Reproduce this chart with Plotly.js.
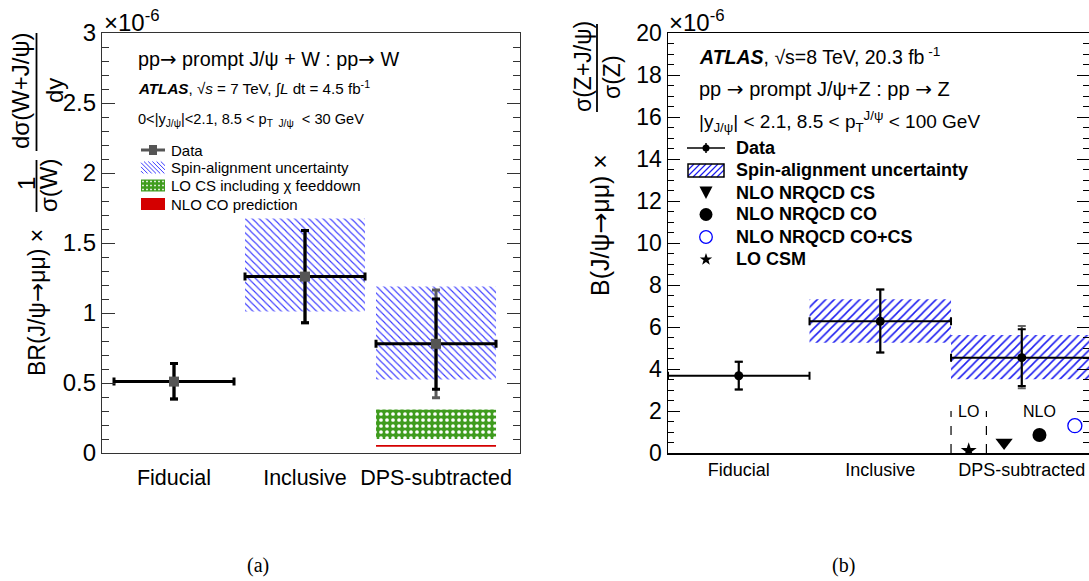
<!DOCTYPE html>
<html><head><meta charset="utf-8">
<script src="https://cdn.plot.ly/plotly-3.0.1.min.js"></script>
<style>html,body{margin:0;padding:0;background:#fff}#chart{width:1089px;height:581px}</style>
</head><body><div id="chart"></div>
<script>
// ---------------- data ----------------
const categories = ["Fiducial", "Inclusive", "DPS-subtracted"];
// (a) W + prompt J/psi  (units of 1e-6)
const wValues    = [0.51, 1.26, 0.78];
const wStatUp    = [0.13, 0.33, 0.32];
const wStatDown  = [0.125, 0.33, 0.325];
const wTotUp     = [0.13, 0.33, 0.385];
const wTotDown   = [0.125, 0.33, 0.385];
const wSpinLow   = [null, 1.01, 0.525];
const wSpinHigh  = [null, 1.675, 1.19];
const loCsLow    = [null, null, 0.10];
const loCsHigh   = [null, null, 0.31];
const nloCoLow   = [null, null, 0.045];
const nloCoHigh  = [null, null, 0.058];
// (b) Z + prompt J/psi  (units of 1e-6)
const zValues    = [3.68, 6.27, 4.54];
const zStatUp    = [0.67, 1.52, 1.35];
const zStatDown  = [0.66, 1.49, 1.35];
const zTotUp     = [0.67, 1.52, 1.51];
const zTotDown   = [0.66, 1.49, 1.46];
const zSpinLow   = [null, 5.25, 3.51];
const zSpinHigh  = [null, 7.32, 5.62];
const theoryNames  = ["LO CSM", "NLO NRQCD CS", "NLO NRQCD CO", "NLO NRQCD CO+CS"];
const theoryValues = [0.11, 0.5, 0.86, 1.3];
const yRangeA = [0, 3], yStepA = 0.5, yMinorA = 0.1;
const yRangeB = [0, 20], yStepB = 2, yMinorB = 0.5;

// ---------------- helpers ----------------
const W = 1089, H = 581;
const FONT = "Liberation Sans, Arial, Helvetica, sans-serif";
const ARR = '<span style="font-family:DejaVu Sans">→</span>';
const idx = categories.map((c, i) => i);
const px = x => x / W, py = y => 1 - y / H;
const diff = (hi, lo) => hi.map((h, i) => (h == null || lo[i] == null) ? null : h - lo[i]);

function ann(text, x, y, o) {
  o = o || {};
  return {text, xref: 'paper', yref: 'paper', x: px(x), y: py(y), showarrow: false,
    xanchor: o.xa || 'left', yanchor: o.ya || 'middle', textangle: o.angle || 0,
    font: {family: o.family || FONT, size: o.size || 14, color: o.color || '#000'}};
}
function lineShape(x0, y0, x1, y1, color, width, dash) {
  return {type: 'line', xref: 'paper', yref: 'paper', x0: px(x0), y0: py(y0), x1: px(x1), y1: py(y1),
    line: {color, width, dash: dash || 'solid'}};
}
function rectShape(x0, y0, x1, y1, fill, lc, lw) {
  return {type: 'rect', xref: 'paper', yref: 'paper', x0: px(x0), y0: py(y0), x1: px(x1), y1: py(y1),
    fillcolor: fill, line: {color: lc || 'rgba(0,0,0,0)', width: lw || 0}};
}
function hatchPath(x0, y0, x1, y1, s, dir) {
  let d = '';
  const P = (x, y) => px(x).toFixed(5) + ',' + py(y).toFixed(5);
  if (dir === '\\') {
    for (let c = y0 - x1; c <= y1 - x0; c += s) {
      const xa = Math.max(x0, y0 - c), xb = Math.min(x1, y1 - c);
      if (xb > xa) d += 'M' + P(xa, xa + c) + 'L' + P(xb, xb + c);
    }
  } else {
    for (let c = x0 + y0; c <= x1 + y1; c += s) {
      const xa = Math.max(x0, c - y1), xb = Math.min(x1, c - y0);
      if (xb > xa) d += 'M' + P(xa, c - xa) + 'L' + P(xb, c - xb);
    }
  }
  return d;
}
function dotsPath(x0, y0, x1, y1, s, r) {
  let d = '';
  const P = (x, y) => px(x).toFixed(5) + ',' + py(y).toFixed(5);
  for (let y = y0 + s / 2; y < y1; y += s)
    for (let x = x0 + s / 2; x < x1; x += s)
      d += 'M' + P(x - r, y - r) + 'L' + P(x + r, y - r) + 'L' + P(x + r, y + r) + 'L' + P(x - r, y + r) + 'Z';
  return d;
}
function circleShape(cx, cy, r, fill, lc, lw) {
  return {type: 'circle', xref: 'paper', yref: 'paper', x0: px(cx - r), x1: px(cx + r), y0: py(cy + r), y1: py(cy - r),
    fillcolor: fill, line: {color: lc, width: lw}};
}
function starPath(cx, cy, ro, ri) {
  let d = '';
  for (let k = 0; k < 10; k++) {
    const a = -Math.PI / 2 + k * Math.PI / 5, r = k % 2 ? ri : ro;
    d += (k ? 'L' : 'M') + px(cx + r * Math.cos(a)).toFixed(5) + ',' + py(cy + r * Math.sin(a)).toFixed(5);
  }
  return d + 'Z';
}

// ---------------- traces ----------------
const halfA = 0.458, halfB = 0.5;
const traces = [];
// (a)
traces.push({type: 'bar', xaxis: 'x', yaxis: 'y', x: idx, base: wSpinLow, y: diff(wSpinHigh, wSpinLow), width: 2 * halfA,
  marker: {color: 'rgba(0,0,0,0)', line: {width: 0}, pattern: {shape: '\\', fgcolor: '#3b3bff', bgcolor: 'rgba(0,0,0,0)', size: 5, solidity: 0.22}}});
traces.push({type: 'bar', xaxis: 'x', yaxis: 'y', x: idx, base: loCsLow, y: diff(loCsHigh, loCsLow), width: 2 * halfA,
  marker: {color: '#3f9c1e', line: {width: 0}, pattern: {shape: '.', fgcolor: '#ffffff', bgcolor: '#3f9c1e', size: 6, solidity: 0.3}}});
traces.push({type: 'bar', xaxis: 'x', yaxis: 'y', x: idx, base: nloCoLow, y: diff(nloCoHigh, nloCoLow), width: 2 * halfA,
  marker: {color: '#d40000', line: {width: 0}}});
traces.push({type: 'scatter', mode: 'markers', xaxis: 'x', yaxis: 'y', x: idx, y: wValues,
  marker: {color: '#555', size: 1, opacity: 0},
  error_y: {type: 'data', symmetric: false, array: wTotUp, arrayminus: wTotDown, color: '#5a5a5a', thickness: 3, width: 4}});
traces.push({type: 'scatter', mode: 'markers', xaxis: 'x', yaxis: 'y', x: idx, y: wValues,
  marker: {color: '#555555', size: 10, symbol: 'square'},
  error_y: {type: 'data', symmetric: false, array: wStatUp, arrayminus: wStatDown, color: '#000', thickness: 3, width: 4},
  error_x: {type: 'constant', value: halfA, color: '#000', thickness: 3, width: 4}});
// (b)
traces.push({type: 'bar', xaxis: 'x2', yaxis: 'y2', x: idx, base: zSpinLow, y: diff(zSpinHigh, zSpinLow), width: 2 * halfB,
  marker: {color: 'rgba(0,0,0,0)', line: {width: 0}, pattern: {shape: '/', fgcolor: '#1c1cf0', bgcolor: 'rgba(0,0,0,0)', size: 6, solidity: 0.26}}});
traces.push({type: 'scatter', mode: 'markers', xaxis: 'x2', yaxis: 'y2', x: idx, y: zValues,
  marker: {color: '#000', size: 1, opacity: 0},
  error_y: {type: 'data', symmetric: false, array: zTotUp, arrayminus: zTotDown, color: '#666', thickness: 2, width: 4}});
traces.push({type: 'scatter', mode: 'markers', xaxis: 'x2', yaxis: 'y2', x: idx, y: zValues,
  marker: {color: '#000', size: 9, symbol: 'circle'},
  error_y: {type: 'data', symmetric: false, array: zStatUp, arrayminus: zStatDown, color: '#000', thickness: 2, width: 4},
  error_x: {type: 'constant', value: halfB, color: '#000', thickness: 2, width: 4}});
const dpsIdx = categories.indexOf("DPS-subtracted");
const theoryOffsets = [-0.375, -0.125, 0.125, 0.375];
const theorySymbols = ['star', 'triangle-down', 'circle', 'circle-open'];
const theorySizes = [12, 15, 14, 14];
const theoryColors = ['#000', '#000', '#000', '#0000ff'];
theoryNames.forEach((n, k) => {
  traces.push({type: 'scatter', mode: 'markers', xaxis: 'x2', yaxis: 'y2', name: n,
    x: [dpsIdx + theoryOffsets[k]], y: [theoryValues[k]],
    marker: {symbol: theorySymbols[k], size: theorySizes[k], color: theoryColors[k], line: {color: theoryColors[k], width: k === 3 ? 1.3 : 0}}});
});

// ---------------- decorations ----------------
const shapes = [];
const annotations = [];
// y-axis titles (a)
annotations.push(ann('BR(J/ψ' + ARR + 'μμ) ×', 37, 303, {xa: 'center', angle: -90, size: 23}));
annotations.push(ann('1', 26, 184, {xa: 'center', angle: -90, size: 24}));
annotations.push(ann('σ(W)', 48, 186, {xa: 'center', angle: -90, size: 24}));
shapes.push(lineShape(36.5, 160, 36.5, 212, '#000', 1.8));
annotations.push(ann('dσ(W+J/ψ)', 21, 91, {xa: 'center', angle: -90, size: 24}));
annotations.push(ann('dy', 55, 91, {xa: 'center', angle: -90, size: 24}));
shapes.push(lineShape(36.5, 33, 36.5, 151, '#000', 1.8));
annotations.push(ann('×10<sup>-6</sup>', 102, 21, {xa: 'left', size: 24}));
// y-axis titles (b)
annotations.push(ann('B(J/ψ' + ARR + 'μμ) ×', 600, 225, {xa: 'center', angle: -90, size: 25}));
annotations.push(ann('σ(Z+J/ψ)', 583, 67, {xa: 'center', angle: -90, size: 23}));
annotations.push(ann('σ(Z)', 612, 77, {xa: 'center', angle: -90, size: 23}));
shapes.push(lineShape(597, 24, 597, 112, '#000', 1.8));
annotations.push(ann('×10<sup>-6</sup>', 667, 21, {xa: 'left', size: 24}));

// text (a)
annotations.push(ann('pp' + ARR + ' prompt J/ψ + W : pp' + ARR + ' W', 136, 60, {size: 19.8}));
annotations.push(ann('<b><i>ATLAS</i></b>, √<i>s</i> = 7 TeV, ∫<i>L</i> dt = 4.5 fb<sup>-1</sup>', 136, 88, {size: 15.2}));
annotations.push(ann('0&lt;|y<sub>J/ψ</sub>|&lt;2.1, 8.5 &lt; p<sub>T  J/ψ</sub>  &lt; 30 GeV', 136, 120, {size: 14.6}));
// legend (a)
const legA = ['Data', 'Spin-alignment uncertainty', 'LO CS including χ feeddown', 'NLO CO prediction'];
const legAy = [150, 167.5, 185.5, 204];
legA.forEach((t, k) => annotations.push(ann(t, 169, legAy[k], {size: 15})));
shapes.push(lineShape(141, 150, 165, 150, '#555', 3));
shapes.push(rectShape(149, 145, 157, 155, '#555'));
shapes.push({type: 'path', xref: 'paper', yref: 'paper', path: hatchPath(141, 161.5, 165, 173.5, 4.2, '\\'), line: {color: '#3b3bff', width: 1}});
shapes.push(rectShape(141, 179.5, 165, 191.5, '#3f9c1e'));
shapes.push({type: 'path', xref: 'paper', yref: 'paper', path: dotsPath(141, 179.5, 165, 191.5, 4, 0.8), fillcolor: '#fff', line: {width: 0, color: 'rgba(0,0,0,0)'}});
shapes.push(rectShape(141, 198, 165, 210, '#d40000'));

// text (b)
annotations.push(ann('<b><i>ATLAS</i></b>, √s=8 TeV, 20.3 fb<sup> -1</sup>', 697, 56, {size: 19.5}));
annotations.push(ann('pp ' + ARR + ' prompt J/ψ+Z : pp ' + ARR + ' Z', 697, 89, {size: 20}));
annotations.push(ann('|y<sub>J/ψ</sub>| &lt; 2.1, 8.5 &lt; p<sub>T</sub><sup>J/ψ</sup> &lt; 100 GeV', 697, 121, {size: 19}));
// legend (b)
const legB = ['Data', 'Spin-alignment uncertainty'].concat(theoryNames.slice(1)).concat([theoryNames[0]]);
const legBy = [148, 170, 193, 214, 237, 259];
legB.forEach((t, k) => annotations.push(ann('<b>' + t + '</b>', 734, legBy[k], {size: 18})));
shapes.push(lineShape(687, 148, 725, 148, '#000', 1.5));
shapes.push(lineShape(706, 143, 706, 153, '#000', 1.5));
shapes.push(circleShape(706, 148, 3.5, '#000', '#000', 0));
shapes.push({type: 'path', xref: 'paper', yref: 'paper', path: hatchPath(688, 164, 724, 177, 6, '/'), line: {color: '#1c1cf0', width: 1.2}});
shapes.push(rectShape(688, 164, 724, 177, 'rgba(0,0,0,0)', '#000', 1.5));
shapes.push({type: 'path', xref: 'paper', yref: 'paper',
  path: 'M' + px(699.5).toFixed(5) + ',' + py(186.5).toFixed(5) + 'L' + px(712.5).toFixed(5) + ',' + py(186.5).toFixed(5) + 'L' + px(706).toFixed(5) + ',' + py(199).toFixed(5) + 'Z',
  fillcolor: '#000', line: {width: 0, color: 'rgba(0,0,0,0)'}});
shapes.push(circleShape(706, 214.5, 6.5, '#000', '#000', 0));
shapes.push(circleShape(706, 237, 6.3, 'rgba(0,0,0,0)', '#0000ff', 1.3));
shapes.push({type: 'path', xref: 'paper', yref: 'paper', path: starPath(706, 259.5, 6.5, 2.6), fillcolor: '#000', line: {width: 0, color: 'rgba(0,0,0,0)'}});

// LO / NLO separators in DPS bin of (b)
shapes.push({type: 'line', xref: 'x2', yref: 'y2', x0: dpsIdx - 0.5, x1: dpsIdx - 0.5, y0: 0, y1: 2.0, line: {color: '#000', width: 1.2, dash: 'dash'}});
shapes.push({type: 'line', xref: 'x2', yref: 'y2', x0: dpsIdx - 0.25, x1: dpsIdx - 0.25, y0: 0, y1: 2.0, line: {color: '#000', width: 1.2, dash: 'dash'}});
annotations.push({text: 'LO', xref: 'x2', yref: 'y2', x: dpsIdx - 0.375, y: 1.97, showarrow: false, xanchor: 'center', yanchor: 'middle', font: {family: FONT, size: 16, color: '#000'}});
annotations.push({text: 'NLO', xref: 'x2', yref: 'y2', x: dpsIdx + 0.125, y: 1.97, showarrow: false, xanchor: 'center', yanchor: 'middle', font: {family: FONT, size: 16, color: '#000'}});

// captions
annotations.push(ann('(a)', 258, 565, {xa: 'center', size: 20, family: 'Liberation Serif, Times New Roman, serif'}));
annotations.push(ann('(b)', 843, 565, {xa: 'center', size: 20, family: 'Liberation Serif, Times New Roman, serif'}));

// ---------------- layout ----------------
const yDom = [1 - 453 / H, 1 - 33 / H];
const layout = {
  width: W, height: H, margin: {l: 0, r: 0, t: 0, b: 0},
  paper_bgcolor: '#fff', plot_bgcolor: 'rgba(0,0,0,0)',
  showlegend: false, barmode: 'overlay', hovermode: false,
  font: {family: FONT, color: '#000'},
  xaxis: {domain: [102 / W, 520 / W], range: [-0.5496, 2.641], tickmode: 'array', tickvals: idx, ticktext: categories,
    ticks: '', showline: true, mirror: true, linecolor: '#333', linewidth: 1.2, showgrid: false, zeroline: false,
    ticklabelstandoff: 5, tickfont: {family: FONT, size: 21.5}, fixedrange: true},
  yaxis: {domain: yDom, range: yRangeA, tick0: 0, dtick: yStepA, ticks: 'inside', ticklen: 13, tickcolor: '#333',
    showline: true, mirror: 'ticks', linecolor: '#333', linewidth: 1.2, showgrid: false, zeroline: false,
    minor: {dtick: yMinorA, tick0: 0, ticks: 'inside', ticklen: 7, tickcolor: '#333', showgrid: false},
    tickfont: {family: FONT, size: 24}, fixedrange: true},
  xaxis2: {domain: [668 / W, 1], range: [-0.5, 2.475], anchor: 'y2', tickmode: 'array', tickvals: idx, ticktext: categories,
    ticks: '', showline: true, mirror: true, linecolor: '#000', linewidth: 1.5, showgrid: false, zeroline: false,
    tickfont: {family: FONT, size: 18}, fixedrange: true},
  yaxis2: {domain: yDom, range: yRangeB, anchor: 'x2', tick0: 0, dtick: yStepB, ticks: 'inside', ticklen: 12, tickcolor: '#000',
    showline: true, mirror: 'ticks', linecolor: '#000', linewidth: 1.5, showgrid: false, zeroline: false,
    minor: {dtick: yMinorB, tick0: 0, ticks: 'inside', ticklen: 6, tickcolor: '#000', showgrid: false},
    tickfont: {family: FONT, size: 23}, fixedrange: true},
  shapes, annotations
};
Plotly.newPlot('chart', traces, layout, {staticPlot: true, displayModeBar: false});
</script>
</body></html>
